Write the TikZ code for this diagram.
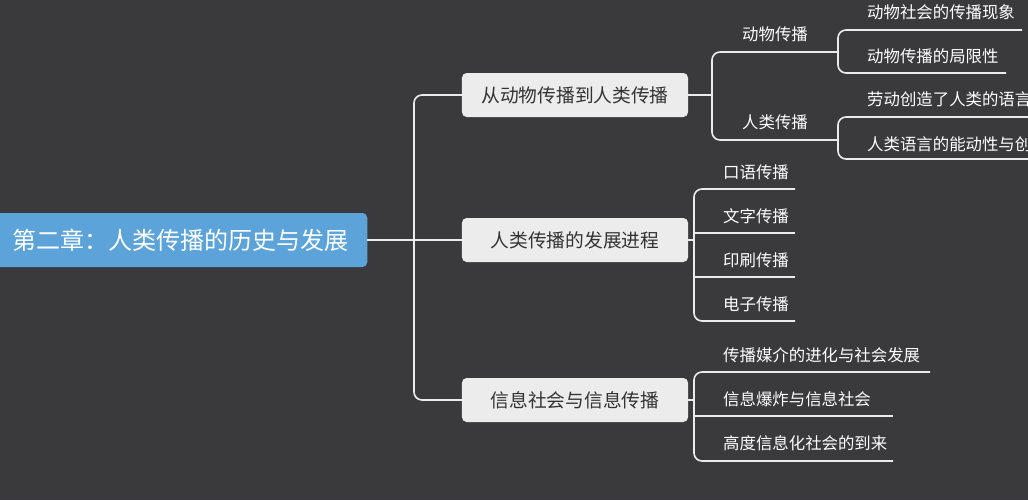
\documentclass[tikz,border=0pt]{standalone}
\usepackage{fontspec}
\setmainfont{Noto Sans CJK SC}
\usetikzlibrary{positioning}
\definecolor{bgc}{HTML}{3A3A3C}
\definecolor{rootc}{HTML}{5BA3D9}
\definecolor{boxc}{HTML}{ECECEC}
\tikzset{
  rootbox/.style={fill=rootc, rounded corners=4pt, text=white, font=\fontsize{20.5}{23}\selectfont, anchor=west, minimum height=1.62cm, text width=9.99cm, inner xsep=0.66cm},
  topicbox/.style={fill=boxc, rounded corners=4pt, text=black!80, font=\fontsize{16}{19}\selectfont, minimum width=6.78cm, minimum height=1.32cm},
  leaf/.style={text=white, font=\fontsize{14}{17}\selectfont, anchor=west, inner sep=0pt},
  link/.style={white!92!black, line width=1.4pt, rounded corners=0.24cm},
}
\begin{document}
\begin{tikzpicture}[x=0.03cm, y=-0.03cm]
  \fill[bgc] (0,0) rectangle (1028,500);
  \useasboundingbox (0,0) rectangle (1028,500);
  \clip (0,0) rectangle (1028,500);

  % root and main topics
  \node[rootbox] (root) at (-10,240) {第二章：人类传播的历史与发展};
  \node[topicbox] (t1) at (575,95) {从动物传播到人类传播};
  \node[topicbox] (t2) at (575,240) {人类传播的发展进程};
  \node[topicbox] (t3) at (575,400) {信息社会与信息传播};

  \draw[link] (root.east) -- (414,240);
  \draw[link] (t1.west) -| (414,400) -- (t3.west);
  \draw[link] (414,240) -- (t2.west);

  % branch 1
  \node[leaf] (a1) at (742,34) {动物传播};
  \node[leaf] (a2) at (742,122) {人类传播};
  \coordinate (a1e) at (838,52);
  \coordinate (a2e) at (838,140);
  \draw[link] (t1.east) -- (712,95);
  \draw[link] (a1e) -- (712,52) -- (712,140) -- (a2e);

  \node[leaf] (a11) at (867,12) {动物社会的传播现象};
  \node[leaf] (a12) at (867,56) {动物传播的局限性};
  \draw[link] (1022,30) -- (838,30) -- (838,73) -- (1006,73);
  \node[leaf] (a21) at (867,99) {劳动创造了人类的语言};
  \node[leaf] (a22) at (867,144) {人类语言的能动性与创造性};
  \draw[link] (1040,117) -- (838,117) -- (838,159) -- (1040,159);

  % branch 2
  \draw[link] (t2.east) -- (694,240);
  \node[leaf] (b1) at (723,172) {口语传播};
  \node[leaf] (b2) at (723,216) {文字传播};
  \node[leaf] (b3) at (723,260) {印刷传播};
  \node[leaf] (b4) at (723,304) {电子传播};
  \draw[link] (795,189) -- (694,189) -- (694,321) -- (795,321);
  \draw[link] (694,233) -- (795,233);
  \draw[link] (694,277) -- (795,277);

  % branch 3
  \draw[link] (t3.east) -- (694,400);
  \node[leaf] (c1) at (723,355) {传播媒介的进化与社会发展};
  \node[leaf] (c2) at (723,399) {信息爆炸与信息社会};
  \node[leaf] (c3) at (723,443) {高度信息化社会的到来};
  \draw[link] (930,372) -- (694,372) -- (694,461) -- (893,461);
  \draw[link] (694,416) -- (893,416);
\end{tikzpicture}
\end{document}
